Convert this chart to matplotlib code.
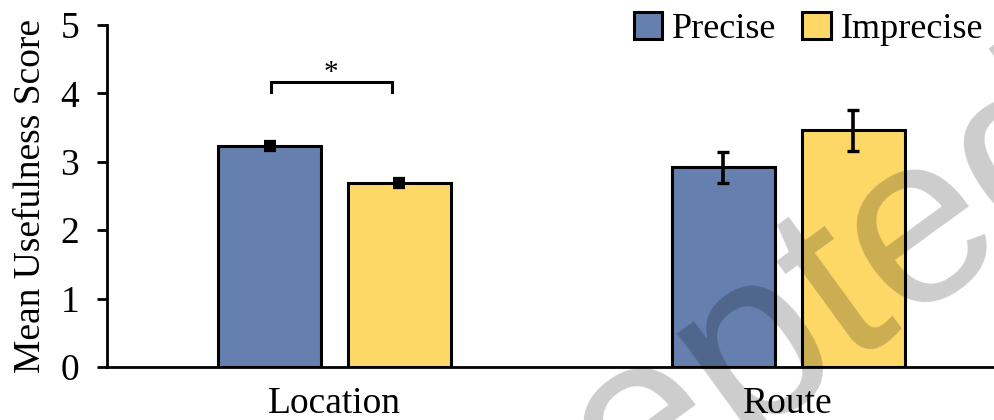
import matplotlib
matplotlib.use("Agg")
import matplotlib.pyplot as plt
import numpy as np

# data
categories = ["Location", "Route"]
series_names = ["Precise", "Imprecise"]
precise_means = [3.23, 2.92]
imprecise_means = [2.69, 3.46]
precise_err = [0.05, 0.23]
imprecise_err = [0.05, 0.30]
yticks = [0, 1, 2, 3, 4, 5]

blue = "#6580AF"
yellow = "#FDD867"

plt.rcParams['font.family'] = ['Liberation Serif', 'DejaVu Serif']

fig = plt.figure(figsize=(9.95, 4.2), dpi=100)
ax = fig.add_axes([0.1075, 0.1262, 0.8925, 0.8143])

x = np.arange(len(categories))
w = 0.227
off = 0.143
ax.bar(x - off, precise_means, w, color=blue, edgecolor='black', linewidth=2.2,
       label=series_names[0], zorder=2)
ax.bar(x + off, imprecise_means, w, color=yellow, edgecolor='black', linewidth=2.2,
       label=series_names[1], zorder=2)

# error bars; the tiny Location ones come out as solid black blocks
for i in range(len(categories)):
    ct = 4.5 if i == 0 else 2.4
    ax.errorbar([x[i] - off, x[i] + off], [precise_means[i], imprecise_means[i]],
                yerr=[precise_err[i], imprecise_err[i]], fmt='none', ecolor='black',
                elinewidth=2.6, capsize=4.5, capthick=ct, zorder=3)

# significance bracket on Location
bx0, bx1 = -0.141, 0.126
ax.plot([bx0, bx0, bx1, bx1], [4.02, 4.16, 4.16, 4.02], color='black', lw=2.2,
        solid_joinstyle='miter', clip_on=False)
ax.text((bx0 + bx1) / 2, 4.3, "*", ha='center', va='center', fontsize=21)

ax.set_xlim(-0.502, 1.456)
ax.set_ylim(0, 5)
ax.set_yticks(yticks)
ax.set_xticks(x)
ax.set_xticklabels(categories)
ax.tick_params(axis='y', direction='out', length=7, width=2, labelsize=27, pad=13)
ax.tick_params(axis='x', length=0, labelsize=27, pad=14)
ax.spines['top'].set_visible(False)
ax.spines['right'].set_visible(False)
ax.spines['left'].set_linewidth(2)
ax.spines['bottom'].set_linewidth(2)
ax.set_ylabel("Mean Usefulness Score", fontsize=27)
ax.yaxis.set_label_coords(-0.066, 0.5)

leg = ax.legend(loc='upper right', bbox_to_anchor=(1.003, 1.08), ncol=2, frameon=False,
                fontsize=26, handlelength=0.78, handleheight=0.78, handletextpad=0.28,
                columnspacing=0.72, borderaxespad=0)

# "Accepted" watermark, mostly outside the figure
fig.text(0.68, 0.01, "Accepted", fontsize=175, family='Liberation Sans',
         color='black', alpha=0.2, rotation=36, rotation_mode='anchor',
         ha='center', va='center', zorder=10)

fig.savefig("out.png", dpi=100)
